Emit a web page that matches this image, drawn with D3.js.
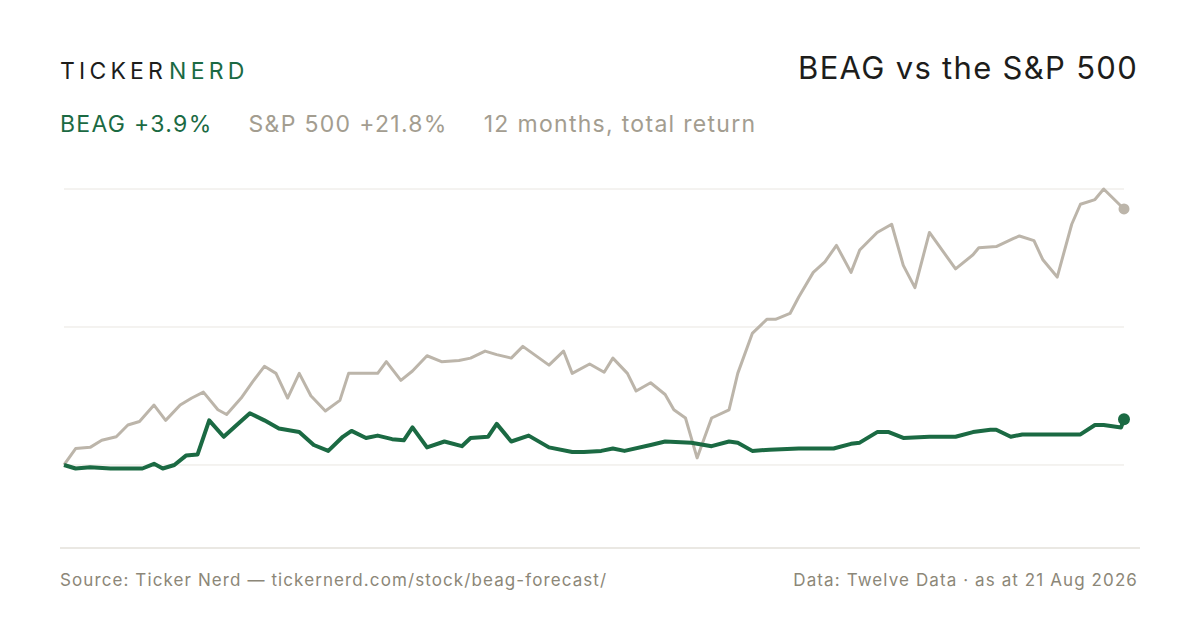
<!DOCTYPE html>
<html><head><meta charset="utf-8">
<script src="https://cdn.jsdelivr.net/npm/d3@7"></script>
<style>body{margin:0;background:#fff}svg{display:block;font-family:Inter,"Noto Sans",sans-serif}</style>
</head><body><svg id="c" width="1200" height="630"></svg>
<script>
// day offset within the 12 month window, and total return in %
const spxDays = [0,4,9,13,18,22,26,31,35,40,44,48,53,56,61,65,69,73,77,81,85,90,95,98,103,108,111,116,120,125,130,136,140,145,149,154,158,167,172,175,181,186,189,194,197,202,207,210,214,218,223,229,232,237,242,245,250,253,258,262,266,271,274,280,285,289,293,298,307,313,315,321,327,329,334,337,342,347,350,355,358,365];
const spxRet = [0,1.4,1.5,2.1,2.4,3.4,3.7,5.1,3.8,5.1,5.7,6.2,4.7,4.3,5.7,7.1,8.4,7.8,5.7,7.8,5.9,4.6,5.5,7.8,7.8,7.8,8.8,7.2,8.0,9.3,8.8,8.9,9.1,9.7,9.4,9.1,10.1,8.5,9.7,7.8,8.6,7.9,9.1,7.8,6.3,7.0,6.0,4.7,4.0,0.6,4.0,4.7,7.8,11.2,12.4,12.4,12.9,14.3,16.4,17.3,18.7,16.4,18.3,19.8,20.5,17.0,15.1,19.8,16.7,17.9,18.5,18.6,19.3,19.5,19.1,17.5,16.0,20.5,22.2,22.6,23.5,21.8];
const beagDays = [0,4,9,16,19,23,27,31,34,38,42,46,50,55,59,64,69,74,81,86,91,96,99,104,108,113,117,120,125,131,137,140,146,149,154,160,167,175,179,185,189,193,202,207,216,223,229,232,237,243,253,265,271,274,280,284,289,298,307,313,319,321,326,330,336,350,355,358,364,365];
const beagRet = [0,-0.3,-0.2,-0.3,-0.3,-0.3,-0.3,0.1,-0.3,0,0.8,0.9,3.8,2.4,3.3,4.4,3.8,3.1,2.8,1.7,1.2,2.4,2.9,2.3,2.5,2.2,2.1,3.2,1.5,2.0,1.6,2.3,2.4,3.5,2.0,2.5,1.5,1.1,1.1,1.2,1.4,1.2,1.7,2.0,1.9,1.6,2.0,1.9,1.2,1.3,1.4,1.4,1.8,1.9,2.8,2.8,2.3,2.4,2.4,2.8,3.0,3.0,2.4,2.6,2.6,2.6,3.4,3.4,3.2,3.9];
const gridVals = [0, 11.75, 23.5];

const GREEN = "#1b6a43", GREY = "#bcb5aa", MUTED = "#8c8778";
const svg = d3.select("#c");
const x = d3.scaleLinear().domain([0, 365]).range([64, 1124]);
const y = d3.scaleLinear().domain([-7.07, 23.5]).range([548, 189]);

svg.append("g").selectAll("line").data(gridVals).join("line")
  .attr("x1", 64).attr("x2", 1124).attr("y1", d => y(d)).attr("y2", d => y(d))
  .attr("stroke", "#e9e6e1").attr("stroke-width", 1);
svg.append("line").attr("x1", 60).attr("x2", 1140).attr("y1", 548).attr("y2", 548)
  .attr("stroke", "#d6d1c8").attr("stroke-width", 1.2);

const line = d3.line().x(d => x(d[0])).y(d => y(d[1]));
const spx = d3.zip(spxDays, spxRet), beag = d3.zip(beagDays, beagRet);
svg.append("path").datum(spx).attr("d", line).attr("fill", "none")
  .attr("stroke", GREY).attr("stroke-width", 3).attr("stroke-linejoin", "round");
svg.append("path").datum(beag).attr("d", line).attr("fill", "none")
  .attr("stroke", GREEN).attr("stroke-width", 4).attr("stroke-linejoin", "round");
svg.append("circle").attr("cx", x(365)).attr("cy", y(spxRet[spxRet.length - 1])).attr("r", 5.5).attr("fill", GREY);
svg.append("circle").attr("cx", x(365)).attr("cy", y(beagRet[beagRet.length - 1])).attr("r", 6).attr("fill", GREEN);

// header
const logo = svg.append("text").attr("x", 60).attr("y", 79).attr("font-size", 23).attr("letter-spacing", 4.2);
logo.append("tspan").attr("fill", "#1d1d1b").text("TICKER");
logo.append("tspan").attr("fill", GREEN).attr("dx", 2).text("NERD");
svg.append("text").attr("x", 1138).attr("y", 79).attr("text-anchor", "end").attr("letter-spacing", 1.3)
  .attr("font-size", 31).attr("fill", "#1d1d1b").text("BEAG vs the S&P 500");

const leg = svg.append("text").attr("x", 60).attr("y", 132).attr("font-size", 23).attr("letter-spacing", 1.3);
leg.append("tspan").attr("fill", GREEN).text("BEAG +3.9%");
leg.append("tspan").attr("fill", "#a39d90").attr("dx", 36).text("S&P 500 +21.8%");
leg.append("tspan").attr("fill", "#a39d90").attr("dx", 36).text("12 months, total return");

svg.append("text").attr("x", 60).attr("y", 586).attr("font-size", 17).attr("fill", MUTED).attr("letter-spacing", 1.1)
  .text("Source: Ticker Nerd — tickernerd.com/stock/beag-forecast/");
svg.append("text").attr("x", 1138).attr("y", 586).attr("text-anchor", "end").attr("font-size", 17).attr("fill", MUTED).attr("letter-spacing", 1.1)
  .text("Data: Twelve Data · as at 21 Aug 2026");
</script></body></html>
